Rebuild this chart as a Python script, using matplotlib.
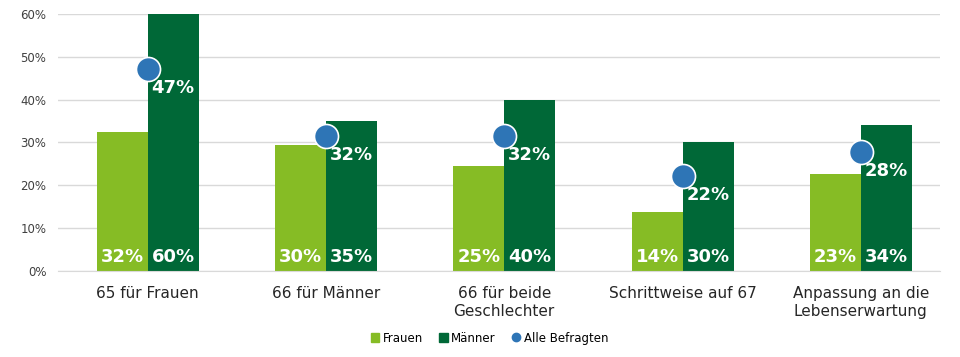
import matplotlib.pyplot as plt
import numpy as np
from matplotlib.lines import Line2D
from matplotlib.patches import Patch

# Daten
kategorien = ["65 für Frauen", "66 für Männer", "66 für beide\nGeschlechter",
              "Schrittweise auf 67", "Anpassung an die\nLebenserwartung"]
frauen = [32.4, 29.5, 24.6, 13.8, 22.6]
maenner = [60, 35, 40, 30, 34]
alle = [47.2, 31.5, 31.5, 22.2, 27.8]
y_ticks = [0, 10, 20, 30, 40, 50, 60]

c_frauen = "#86bc25"
c_maenner = "#006837"
c_alle = "#2e75b6"

plt.rcParams['font.family'] = ['DejaVu Sans']

fig = plt.figure(figsize=(9.6, 3.57), dpi=100)
ax = fig.add_axes([0.060, 0.241, 0.919, 0.720])

x = np.arange(len(kategorien))
bw = 0.286

ax.bar(x - bw / 2, frauen, bw, color=c_frauen, zorder=2)
ax.bar(x + bw / 2, maenner, bw, color=c_maenner, zorder=2)
ax.scatter(x, alle, s=300, color=c_alle, edgecolor="white", linewidth=1.2, zorder=4)

# Beschriftungen in den Balken
for i in range(len(x)):
    ax.text(x[i] - bw / 2, 1.2, f"{round(frauen[i])}%", ha="center", va="bottom",
            color="white", fontsize=13, fontweight="bold", zorder=5)
    ax.text(x[i] + bw / 2, 1.2, f"{round(maenner[i])}%", ha="center", va="bottom",
            color="white", fontsize=13, fontweight="bold", zorder=5)
    ax.annotate(f"{round(alle[i])}%", (x[i] + bw / 2, alle[i]), xytext=(0, -14),
                textcoords="offset points", ha="center", va="center",
                color="white", fontsize=13, fontweight="bold", zorder=5)

ax.set_xlim(-0.505, 4.443)
ax.set_ylim(0, 60)
ax.set_yticks(y_ticks)
ax.set_yticklabels([f"{t}%" for t in y_ticks], fontsize=8.5, color="#404040")
ax.set_xticks(x)
ax.set_xticklabels(kategorien, fontsize=11, color="#262626", linespacing=1.25)
ax.tick_params(axis="both", length=0)
ax.tick_params(axis="x", pad=11)
ax.tick_params(axis="y", pad=8)
ax.grid(axis="y", color="#d9d9d9", linewidth=1, zorder=0)
for s in ["top", "right", "left"]:
    ax.spines[s].set_visible(False)
ax.spines["bottom"].set_color("#d9d9d9")

handles = [Patch(color=c_frauen, label="Frauen"),
           Patch(color=c_maenner, label="Männer"),
           Line2D([], [], marker="o", linestyle="", color=c_alle, markersize=6, label="Alle Befragten")]
fig.legend(handles=handles, loc="center", bbox_to_anchor=(0.510, 0.053), ncol=3,
           frameon=False, fontsize=8.5, handlelength=0.7, handleheight=0.7,
           handletextpad=0.3, columnspacing=1.4)

plt.savefig("out.png", dpi=100)
